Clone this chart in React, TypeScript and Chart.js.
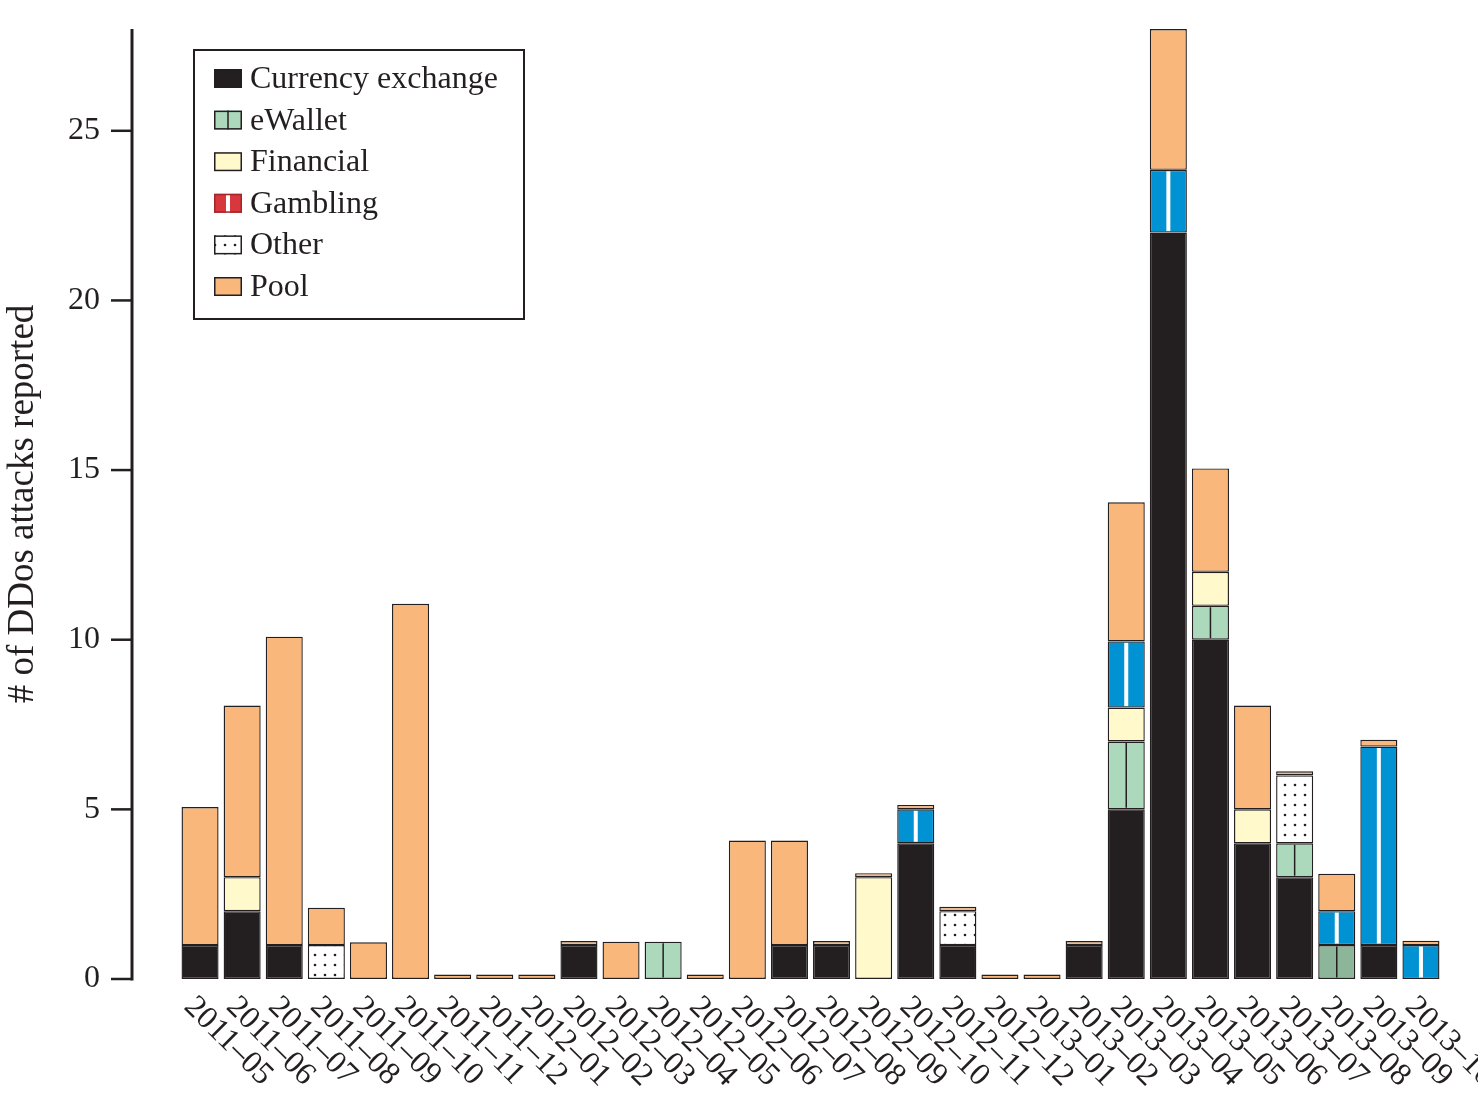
import { useEffect, useRef } from "react";
import { Chart, BarController, BarElement, CategoryScale, LinearScale } from "chart.js";

Chart.register(BarController, BarElement, CategoryScale, LinearScale);

const months = [
    "2011–05", "2011–06", "2011–07", "2011–08", "2011–09", "2011–10", "2011–11", "2011–12",
    "2012–01", "2012–02", "2012–03", "2012–04", "2012–05", "2012–06", "2012–07", "2012–08",
    "2012–09", "2012–10", "2012–11", "2012–12", "2013–01", "2013–02", "2013–03", "2013–04",
    "2013–05", "2013–06", "2013–07", "2013–08", "2013–09", "2013–10",
];

// stacked bottom -> top
const currencyExchange = [1, 2, 1, 0, 0, 0, 0, 0, 0, 1, 0, 0, 0, 0, 1, 1, 0, 4, 1, 0, 0, 1, 5, 22, 10, 4, 3, 0, 1, 0];
const eWallet          = [0, 0, 0, 0, 0, 0, 0, 0, 0, 0, 0, 1.1, 0, 0, 0, 0, 0, 0, 0, 0, 0, 0, 2, 0, 1, 0, 1, 1, 0, 0];
const financial        = [0, 1, 0, 0, 0, 0, 0, 0, 0, 0, 0, 0, 0, 0, 0, 0, 3, 0, 0, 0, 0, 0, 1, 0, 1, 1, 0, 0, 0, 0];
const gambling         = [0, 0, 0, 0, 0, 0, 0, 0, 0, 0, 0, 0, 0, 0, 0, 0, 0, 0, 0, 0, 0, 0, 0, 0, 0, 0, 0, 0, 0, 0];
const other            = [0, 0, 0, 1, 0, 0, 0, 0, 0, 0, 0, 0, 0, 0, 0, 0, 0, 0, 1, 0, 0, 0, 0, 0, 0, 0, 2, 0, 0, 0];
const unlisted         = [0, 0, 0, 0, 0, 0, 0, 0, 0, 0, 0, 0, 0, 0, 0, 0, 0, 1, 0, 0, 0, 0, 1.95, 1.85, 0, 0, 0, 1, 5.85, 1];
const pool             = [4.07, 5.06, 9.09, 1.1, 1.08, 11.06, 0.13, 0.13, 0.13, 0.12, 1.1, 0, 0.13, 4.08, 3.08, 0.12, 0.12, 0.13, 0.13, 0.13, 0.13, 0.12, 4.1, 4.15, 3.05, 3.06, 0.12, 1.1, 0.2, 0.13];

const yTicks = [0, 5, 10, 15, 20, 25];
const yMax = 28;
const yTitle = "# of DDos attacks reported";
const legendNames = ["Currency exchange", "eWallet", "Financial", "Gambling", "Other", "Pool"];
const darkWalletMonth = "2013–08";

const INK = "#231f20";
const FONT = '"Liberation Serif", "Times New Roman", serif';
const C = {
    currency: "#231f20",
    wallet: "#acd9bc",
    walletDark: "#8db59a",
    financial: "#fff9cc",
    gambling: "#d7373d",
    blue: "#0092d2",
    pool: "#f9b77c",
};

function makeDots(): CanvasPattern | string {
    const c = document.createElement("canvas");
    c.width = 10;
    c.height = 10;
    const g = c.getContext("2d");
    if (!g) return "#fff";
    g.fillStyle = "#fff";
    g.fillRect(0, 0, 10, 10);
    g.fillStyle = INK;
    g.beginPath();
    g.arc(5, 5, 1.3, 0, Math.PI * 2);
    g.fill();
    return g.createPattern(c, "repeat") || "#fff";
}

export default function App() {
    const canvasRef = useRef<HTMLCanvasElement>(null);

    useEffect(() => {
        document.body.style.margin = "0";
        if (!canvasRef.current) return;
        const dots = makeDots();

        // vertical stripe drawn through the middle of some bar kinds
        const centerLines: Record<number, { color: string; width: number }> = {
            1: { color: INK, width: 1.5 },
            3: { color: "#ffffff", width: 4 },
            5: { color: "#ffffff", width: 4 },
        };

        const legendStyles = [
            { fill: C.currency, border: INK, line: null as null | { color: string; width: number } },
            { fill: C.wallet, border: INK, line: { color: INK, width: 1.5 } },
            { fill: C.financial, border: INK, line: null },
            { fill: C.gambling, border: "#a3262b", line: { color: "#ffffff", width: 4 } },
            { fill: dots, border: INK, line: null },
            { fill: C.pool, border: INK, line: null },
        ];

        const decor = {
            id: "decor",
            afterDatasetsDraw(chart: Chart) {
                const ctx = chart.ctx;
                ctx.save();
                chart.data.datasets.forEach((ds, di) => {
                    const cl = centerLines[di];
                    if (!cl) return;
                    const meta = chart.getDatasetMeta(di);
                    meta.data.forEach((bar: any, i: number) => {
                        if (!ds.data[i]) return;
                        const { x, y, base } = bar.getProps(["x", "y", "base"], true);
                        ctx.strokeStyle = cl.color;
                        ctx.lineWidth = cl.width;
                        ctx.beginPath();
                        ctx.moveTo(x, y + 1.5);
                        ctx.lineTo(x, base - 1.5);
                        ctx.stroke();
                    });
                });
                ctx.restore();
            },
            afterDraw(chart: Chart) {
                const { ctx, chartArea } = chart;
                const xs = chart.scales.x;
                const ys = chart.scales.y;
                ctx.save();

                // y axis line and outward tick marks
                const axisX = chartArea.left - 47;
                ctx.strokeStyle = INK;
                ctx.lineWidth = 3;
                ctx.beginPath();
                ctx.moveTo(axisX, chartArea.top);
                ctx.lineTo(axisX, chartArea.bottom + 1.5);
                ctx.stroke();
                ctx.lineWidth = 2.5;
                yTicks.forEach((v) => {
                    const py = ys.getPixelForValue(v);
                    ctx.beginPath();
                    ctx.moveTo(axisX - 21, py);
                    ctx.lineTo(axisX, py);
                    ctx.stroke();
                });

                // y title
                ctx.fillStyle = INK;
                ctx.save();
                ctx.translate(33, (chartArea.top + chartArea.bottom) / 2);
                ctx.rotate(-Math.PI / 2);
                ctx.font = `37px ${FONT}`;
                ctx.textAlign = "center";
                ctx.textBaseline = "alphabetic";
                ctx.fillText(yTitle, 0, 0);
                ctx.restore();

                // x tick labels, running down to the right
                ctx.font = `32px ${FONT}`;
                ctx.textAlign = "left";
                ctx.textBaseline = "alphabetic";
                months.forEach((m, i) => {
                    const px = xs.getPixelForValue(i);
                    ctx.save();
                    ctx.translate(px - 17, chartArea.bottom + 29);
                    ctx.rotate(Math.PI / 4);
                    ctx.fillText(m, 0, 0);
                    ctx.restore();
                });

                // legend box
                const bx = chartArea.left + 15;
                const by = chartArea.top + 21;
                ctx.fillStyle = "#ffffff";
                ctx.fillRect(bx, by, 330, 269);
                ctx.strokeStyle = INK;
                ctx.lineWidth = 2;
                ctx.strokeRect(bx, by, 330, 269);
                ctx.font = `32px ${FONT}`;
                legendNames.forEach((name, i) => {
                    const sx = bx + 20;
                    const sy = by + 19 + i * 41.6;
                    const st = legendStyles[i];
                    ctx.fillStyle = st.fill as any;
                    ctx.fillRect(sx, sy, 28, 19);
                    if (st.line) {
                        ctx.strokeStyle = st.line.color;
                        ctx.lineWidth = st.line.width;
                        ctx.beginPath();
                        ctx.moveTo(sx + 14, sy);
                        ctx.lineTo(sx + 14, sy + 19);
                        ctx.stroke();
                    }
                    ctx.strokeStyle = st.border;
                    ctx.lineWidth = 1.5;
                    ctx.strokeRect(sx + 0.75, sy + 0.75, 26.5, 17.5);
                    ctx.fillStyle = INK;
                    ctx.fillText(name, bx + 56, sy + 19);
                });
                ctx.restore();
            },
        };

        const nz = (arr: number[]) => arr.map((v) => (v ? v : null));
        const common = {
            borderColor: INK,
            borderWidth: 1.4,
            borderSkipped: false as const,
            barPercentage: 1,
            categoryPercentage: 0.88,
            stack: "s",
        };

        const chart = new Chart(canvasRef.current, {
            type: "bar",
            data: {
                labels: months,
                datasets: [
                    { ...common, label: "Currency exchange", data: nz(currencyExchange), backgroundColor: C.currency },
                    {
                        ...common,
                        label: "eWallet",
                        data: nz(eWallet),
                        backgroundColor: (c: any) => (months[c.dataIndex] === darkWalletMonth ? C.walletDark : C.wallet),
                    },
                    { ...common, label: "Financial", data: nz(financial), backgroundColor: C.financial },
                    { ...common, label: "Gambling", data: nz(gambling), backgroundColor: C.gambling },
                    { ...common, label: "Other", data: nz(other), backgroundColor: dots as any },
                    { ...common, label: "(not in legend)", data: nz(unlisted), backgroundColor: C.blue },
                    { ...common, label: "Pool", data: nz(pool), backgroundColor: C.pool },
                ],
            },
            options: {
                animation: false,
                responsive: true,
                maintainAspectRatio: false,
                layout: { padding: { top: 29, right: 36, bottom: 133, left: 0 } },
                plugins: { legend: { display: false }, tooltip: { enabled: false } },
                scales: {
                    x: { display: false, stacked: true },
                    y: {
                        stacked: true,
                        min: 0,
                        max: yMax,
                        afterBuildTicks: (s: any) => {
                            s.ticks = yTicks.map((v) => ({ value: v }));
                        },
                        afterFit: (s: any) => {
                            s.width = 179;
                            s.paddingTop = 0;
                            s.paddingBottom = 0;
                        },
                        grid: { display: false, drawTicks: false },
                        border: { display: false },
                        ticks: {
                            padding: 79,
                            color: INK,
                            font: { family: FONT, size: 32 },
                        },
                    },
                },
            },
            plugins: [decor],
        });

        return () => {
            chart.destroy();
        };
    }, []);

    return (
        <div style={{ position: "relative", width: "1478px", height: "1112px", overflow: "hidden" }}>
            <canvas ref={canvasRef} role="img" aria-label="Stacked bar chart of DDoS attacks reported per month by target type" />
        </div>
    );
}
